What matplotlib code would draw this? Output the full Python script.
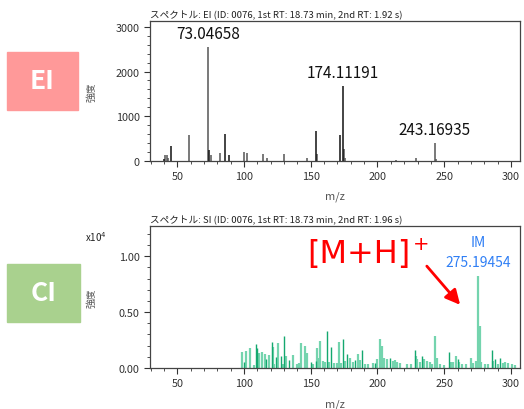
import matplotlib
matplotlib.use("Agg")
import matplotlib.pyplot as plt
from matplotlib.patches import Rectangle
from matplotlib.ticker import MultipleLocator, FormatStrFormatter

plt.rcParams['font.family'] = ['Noto Sans CJK JP', 'DejaVu Sans']

# EI spectrum (m/z, intensity)
ei_dark_mz = [40, 45, 74, 86, 89, 154, 172, 174]
ei_dark_int = [52, 335, 238, 610, 141, 662, 573, 1674]
ei_gray_mz = [41, 42, 43, 59, 73, 75, 82, 100, 102, 114, 117, 130, 147, 155,
              175, 176, 214, 229, 243, 244]
ei_gray_int = [126, 126, 67, 588, 2545, 141, 186, 200, 186, 156, 67, 164, 67,
               156, 275, 67, 22, 74, 394, 52]
ei_labels = [(73, 2545, "73.04658"), (174, 1674, "174.11191"), (243, 394, "243.16935")]

# CI spectrum (m/z, intensity x10^4)
ci_light_mz = [98.5, 101.5, 104.5, 107.5, 111.3, 113.8, 115.5, 119.0, 121.8, 122.8,
               125.8, 129.3, 131.8, 136.5, 139.8, 141.3, 142.8, 145.8, 146.8, 151.8,
               154.8, 155.8, 157.0, 158.8, 160.8, 163.8, 167.3, 169.3, 171.0, 172.5,
               175.8, 179.3, 181.3, 185.3, 186.8, 190.5, 193.0, 196.3, 199.3, 201.8,
               203.0, 204.8, 207.3, 211.3, 213.0, 214.3, 217.0, 221.8, 224.8, 228.8,
               229.8, 231.8, 235.0, 237.3, 239.3, 241.0, 243.3, 244.8, 246.8, 249.8,
               254.8, 256.3, 258.8, 261.3, 263.0, 266.0, 269.8, 271.8, 273.5, 275.5,
               276.5, 277.8, 280.5, 283.0, 286.8, 290.0, 293.8, 295.8, 298.0, 300.5,
               303.0]
ci_light_int = [0.146, 0.152, 0.176, 0.030, 0.134, 0.140, 0.125, 0.119, 0.191, 0.036,
                0.224, 0.036, 0.110, 0.116, 0.033, 0.045, 0.221, 0.194, 0.134, 0.036,
                0.179, 0.087, 0.242, 0.066, 0.057, 0.051, 0.042, 0.042, 0.230, 0.042,
                0.066, 0.093, 0.051, 0.122, 0.075, 0.036, 0.033, 0.042, 0.081, 0.260,
                0.200, 0.087, 0.081, 0.066, 0.069, 0.051, 0.045, 0.033, 0.036, 0.104,
                0.081, 0.051, 0.081, 0.063, 0.057, 0.036, 0.287, 0.093, 0.033, 0.027,
                0.057, 0.051, 0.110, 0.051, 0.033, 0.033, 0.087, 0.045, 0.063, 0.820,
                0.380, 0.051, 0.033, 0.036, 0.066, 0.033, 0.045, 0.057, 0.045, 0.033,
                0.027]
ci_dark_mz = [99.8, 108.8, 109.5, 116.8, 120.8, 124.3, 127.8, 130.0, 133.8, 150.0,
              153.8, 162.3, 165.0, 174.3, 177.3, 183.3, 188.5, 198.0, 209.3, 227.8,
              233.5, 253.8, 260.0, 285.5, 288.3, 291.8]
ci_dark_int = [0.057, 0.215, 0.179, 0.081, 0.230, 0.101, 0.110, 0.284, 0.075, 0.057,
               0.063, 0.331, 0.185, 0.257, 0.122, 0.072, 0.161, 0.045, 0.087, 0.164,
               0.107, 0.146, 0.081, 0.158, 0.081, 0.093]

W, H = 524, 410
fig = plt.figure(figsize=(W / 100, H / 100), dpi=100)

def px_axes(l, t, r, b):
    return fig.add_axes([l / W, 1 - b / H, (r - l) / W, (b - t) / H])

ax1 = px_axes(150, 22, 520, 162)
ax2 = px_axes(150, 227, 520, 369)

def style(ax):
    ax.set_xlim(29.5, 306.8)
    ax.xaxis.set_major_locator(MultipleLocator(50))
    ax.xaxis.set_minor_locator(MultipleLocator(10))
    ax.tick_params(which='both', direction='out', colors='#333333', labelsize=7.8)
    ax.tick_params(which='major', length=4)
    ax.tick_params(which='minor', length=2.5)
    for s in ax.spines.values():
        s.set_color('#444444')
        s.set_linewidth(0.9)
    ax.set_ylabel("強度", fontsize=7, color='#555555')
    ax.yaxis.set_label_coords(-0.145, 0.5)
    ax.text(0.5, -0.25, "m/z", transform=ax.transAxes, ha='center', va='center',
            fontsize=8, style='italic', color='#555555')

# EI panel
ax1.vlines(ei_gray_mz, 0, ei_gray_int, color='#555555', lw=1.1)
ax1.vlines(ei_dark_mz, 0, ei_dark_int, color='#111111', lw=1.1)
ax1.set_ylim(0, 3130)
ax1.yaxis.set_major_locator(MultipleLocator(1000))
ax1.yaxis.set_minor_locator(MultipleLocator(200))
style(ax1)
ax1.set_title("スペクトル: EI (ID: 0076, 1st RT: 18.73 min, 2nd RT: 1.92 s)",
              loc='left', fontsize=6.9, pad=3, color='#222222')
for mz, inten, lab in ei_labels:
    ax1.annotate(lab, (mz, inten), xytext=(0, 4), textcoords='offset points',
                 ha='center', va='bottom', fontsize=11, color='#111111')

# CI panel
ax2.vlines(ci_light_mz, 0, ci_light_int, color='#74D4AE', lw=1.6)
ax2.vlines(ci_dark_mz, 0, ci_dark_int, color='#14A86F', lw=1.0)
ax2.set_ylim(0, 1.27)
ax2.yaxis.set_major_locator(MultipleLocator(0.5))
ax2.yaxis.set_minor_locator(MultipleLocator(0.1))
ax2.yaxis.set_major_formatter(FormatStrFormatter('%.2f'))
style(ax2)
ax2.text(-0.145, 0.93, r"x10$^4$", transform=ax2.transAxes, ha='center', va='center',
         fontsize=7, color='#222222')
ax2.set_title("スペクトル: SI (ID: 0076, 1st RT: 18.73 min, 2nd RT: 1.96 s)",
              loc='left', fontsize=6.9, pad=3, color='#222222')

ax2.text(147.7, 1.02, "[M+H]", ha='left', va='center', fontsize=23,
         family='DejaVu Sans', color='#FF0000')
ax2.text(232.5, 1.11, "+", ha='center', va='center', fontsize=14,
         family='DejaVu Sans', color='#FF0000')
ax2.annotate("", xy=(263.3, 0.546), xytext=(235.6, 0.93),
             arrowprops=dict(arrowstyle='-|>', color='#FF0000', lw=2, mutation_scale=22))
ax2.text(275.3, 1.128, "IM", ha='center', va='center', fontsize=10, color='#2F7FF5')
ax2.text(275.3, 0.949, "275.19454", ha='center', va='center', fontsize=10, color='#2F7FF5')

# side boxes
fig.patches.append(Rectangle((7 / W, 1 - 111 / H), 71 / W, 58 / H,
                             transform=fig.transFigure, color='#FF9999', zorder=0))
fig.text(42.5 / W, 1 - 82 / H, "EI", ha='center', va='center', fontsize=19,
         fontweight='bold', color='white')
fig.patches.append(Rectangle((7 / W, 1 - 323 / H), 73 / W, 58 / H,
                             transform=fig.transFigure, color='#A9D18E', zorder=0))
fig.text(43.5 / W, 1 - 294 / H, "CI", ha='center', va='center', fontsize=19,
         fontweight='bold', color='white')

fig.savefig("out.png", dpi=100)
